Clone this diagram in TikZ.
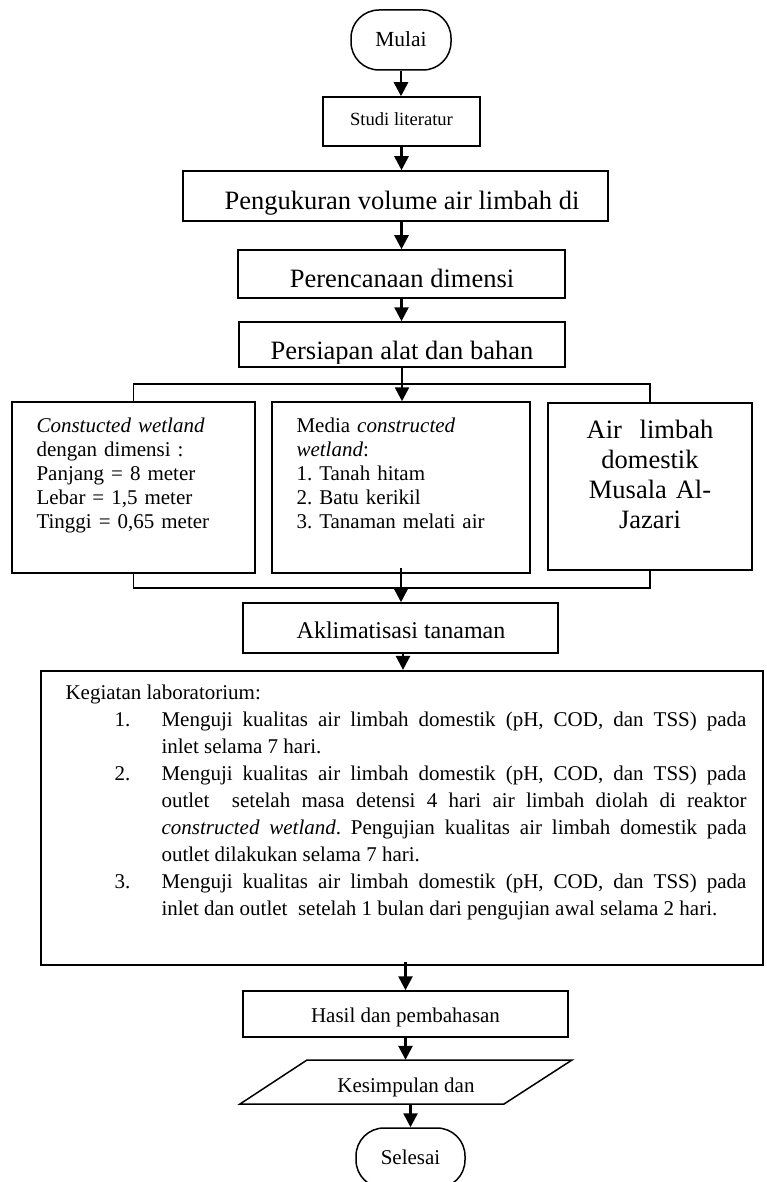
\documentclass[tikz,border=0pt]{standalone}
\usepackage{fontspec}
\setmainfont{Liberation Serif}
\usetikzlibrary{arrows.meta,calc}
\tikzset{
  box/.style={draw, line width=1.5pt, inner sep=0pt},
  term/.style={draw, line width=1.5pt, rounded corners=28pt, inner sep=0pt},
  arr/.style={line width=2.6pt, -{Triangle[length=14pt,width=14pt]}},
  conn/.style={line width=1.8pt},
  fbig/.style={font=\fontsize{26.5}{30}\selectfont},
  fmid/.style={font=\fontsize{21}{24.2}\selectfont},
}
\begin{document}
\frenchspacing
\begin{tikzpicture}[x=1pt,y=-1pt]
\useasboundingbox (0,0) rectangle (766,1182);
% top chain
\node[term, minimum width=100pt, minimum height=60pt] (mulai) at (401,40) {};
\node[anchor=base, font=\fontsize{21.5}{24}\selectfont] (mulait) at (401,47) {Mulai};
\node[box, minimum width=157pt, minimum height=49pt] (studi) at (401.5,121.5) {};
\node[anchor=base, font=\fontsize{18.6}{22}\selectfont] (studit) at (401.5,126) {Studi literatur};
\node[box, minimum width=425pt, minimum height=50pt] (peng) at (395.5,196) {};
\node[anchor=base, fbig] (pengt) at (402,210) {Pengukuran volume air limbah di};
\node[box, minimum width=327pt, minimum height=48pt] (peren) at (401.5,274) {};
\node[anchor=base, fbig] (perent) at (402,287) {Perencanaan dimensi};
\node[box, minimum width=326pt, minimum height=45pt] (pers) at (402,344.5) {};
\begin{scope}
  \clip (pers.north west) rectangle ($(pers.south east)+(0,-4)$);
  \node[anchor=base, fbig] (perst) at (402,359) {Persiapan alat dan bahan};
\end{scope}
% three boxes
\node[box, minimum width=243pt, minimum height=171pt] (left) at (133.5,487.5) {};
\node[box, minimum width=258pt, minimum height=171pt] (mid) at (401,487.5) {};
\node[box, minimum width=204pt, minimum height=167pt] (right) at (650,486.5) {};
\node[anchor=base west, fmid, text width=218pt, align=left] (leftt) at (33,432)
  {\textit{Constucted wetland}\\dengan dimensi :\\Panjang = 8 meter\\Lebar = 1,5 meter\\Tinggi = 0,65 meter};
\node[anchor=base west, fmid, text width=232pt, align=left] (midt) at (293,432)
  {Media \textit{constructed}\\\textit{wetland}:\\1. Tanah hitam\\2. Batu kerikil\\3. Tanaman melati air};
\node[anchor=base, font=\fontsize{26.5}{30.3}\selectfont, text width=190pt, align=center] (rightt) at (650,438)
  {Air\ \ limbah\\domestik\\Musala Al-\\Jazari};
\coordinate (br) at (402,384);
\coordinate (mg) at (402,588);
\draw[conn] (left.north) -- (left.north |- br) -- (right.north |- br) -- (right.north);
\draw[conn] (left.south) -- (left.south |- mg) -- (right.south |- mg) -- (right.south);
% aklimatisasi
\node[box, minimum width=315pt, minimum height=50pt] (akli) at (400.5,628) {};
\node[anchor=base, font=\fontsize{24}{28}\selectfont] (aklit) at (401,638) {Aklimatisasi tanaman};
% big box
\node[box, line width=2.2pt, minimum width=722pt, minimum height=294pt] (keg) at (402,818) {};
\node[anchor=base west, text width=681pt, align=justify, font=\fontsize{21}{27}\selectfont] (kegt) at (62,699)
{\noindent Kegiatan laboratorium:\par
{\hangindent=96pt\hangafter=0\noindent\llap{\makebox[47pt][l]{1.}}Menguji kualitas air limbah domestik (pH, COD, dan TSS) pada\linebreak inlet selama 7 hari.\par}
{\hangindent=96pt\hangafter=0\noindent\llap{\makebox[47pt][l]{2.}}Menguji kualitas air limbah domestik (pH, COD, dan TSS) pada\linebreak outlet\ \ setelah masa detensi 4 hari air limbah diolah di reaktor\linebreak \textit{constructed wetland}. Pengujian kualitas air limbah domestik pada\linebreak outlet dilakukan selama 7 hari.\par}
{\hangindent=96pt\hangafter=0\noindent\llap{\makebox[47pt][l]{3.}}Menguji kualitas air limbah domestik (pH, COD, dan TSS) pada\linebreak inlet dan outlet\ \ setelah 1 bulan dari pengujian awal selama 2 hari.\par}};
% bottom chain
\node[box, minimum width=325pt, minimum height=46pt] (hasil) at (405.5,1014) {};
\node[anchor=base, font=\fontsize{21}{24}\selectfont] (hasilt) at (405.5,1022) {Hasil dan pembahasan};
\node[inner sep=0pt, minimum width=200pt, minimum height=44pt] (kes) at (406,1082) {};
\draw[line width=1.5pt] (307,1060) -- (572,1060) -- (504,1104) -- (240,1104) -- cycle;
\node[anchor=base, font=\fontsize{21}{24}\selectfont] (kest) at (406,1092) {Kesimpulan dan};
\node[term, minimum width=109pt, minimum height=60pt] (sel) at (410.5,1158) {};
\node[anchor=base, font=\fontsize{21}{24}\selectfont] (selt) at (410.5,1164) {Selesai};
% arrows
\draw[arr] (mulai.south) -- (mulai.south |- studi.north);
\draw[arr] (studi.south) -- (studi.south |- peng.north);
\draw[arr] (peren.north |- peng.south) -- (peren.north);
\draw[arr] (peren.south) -- (peren.south |- pers.north);
\draw[arr] (pers.south) -- (pers.south |- mid.north);
\draw[arr] ($(mid.south)+(0,-6)$) -- (mid.south |- akli.north);
\draw[arr] (akli.south -| keg.north) ++(1,0) -- ($(keg.north)+(1,0)$);
\draw[arr] ($(hasil.north |- keg.south)+(0,-4)$) -- (hasil.north);
\draw[arr] (hasil.south) -- (hasil.south |- kes.north);
\draw[arr] (sel.north |- kes.south) -- (sel.north);
\end{tikzpicture}
\end{document}
